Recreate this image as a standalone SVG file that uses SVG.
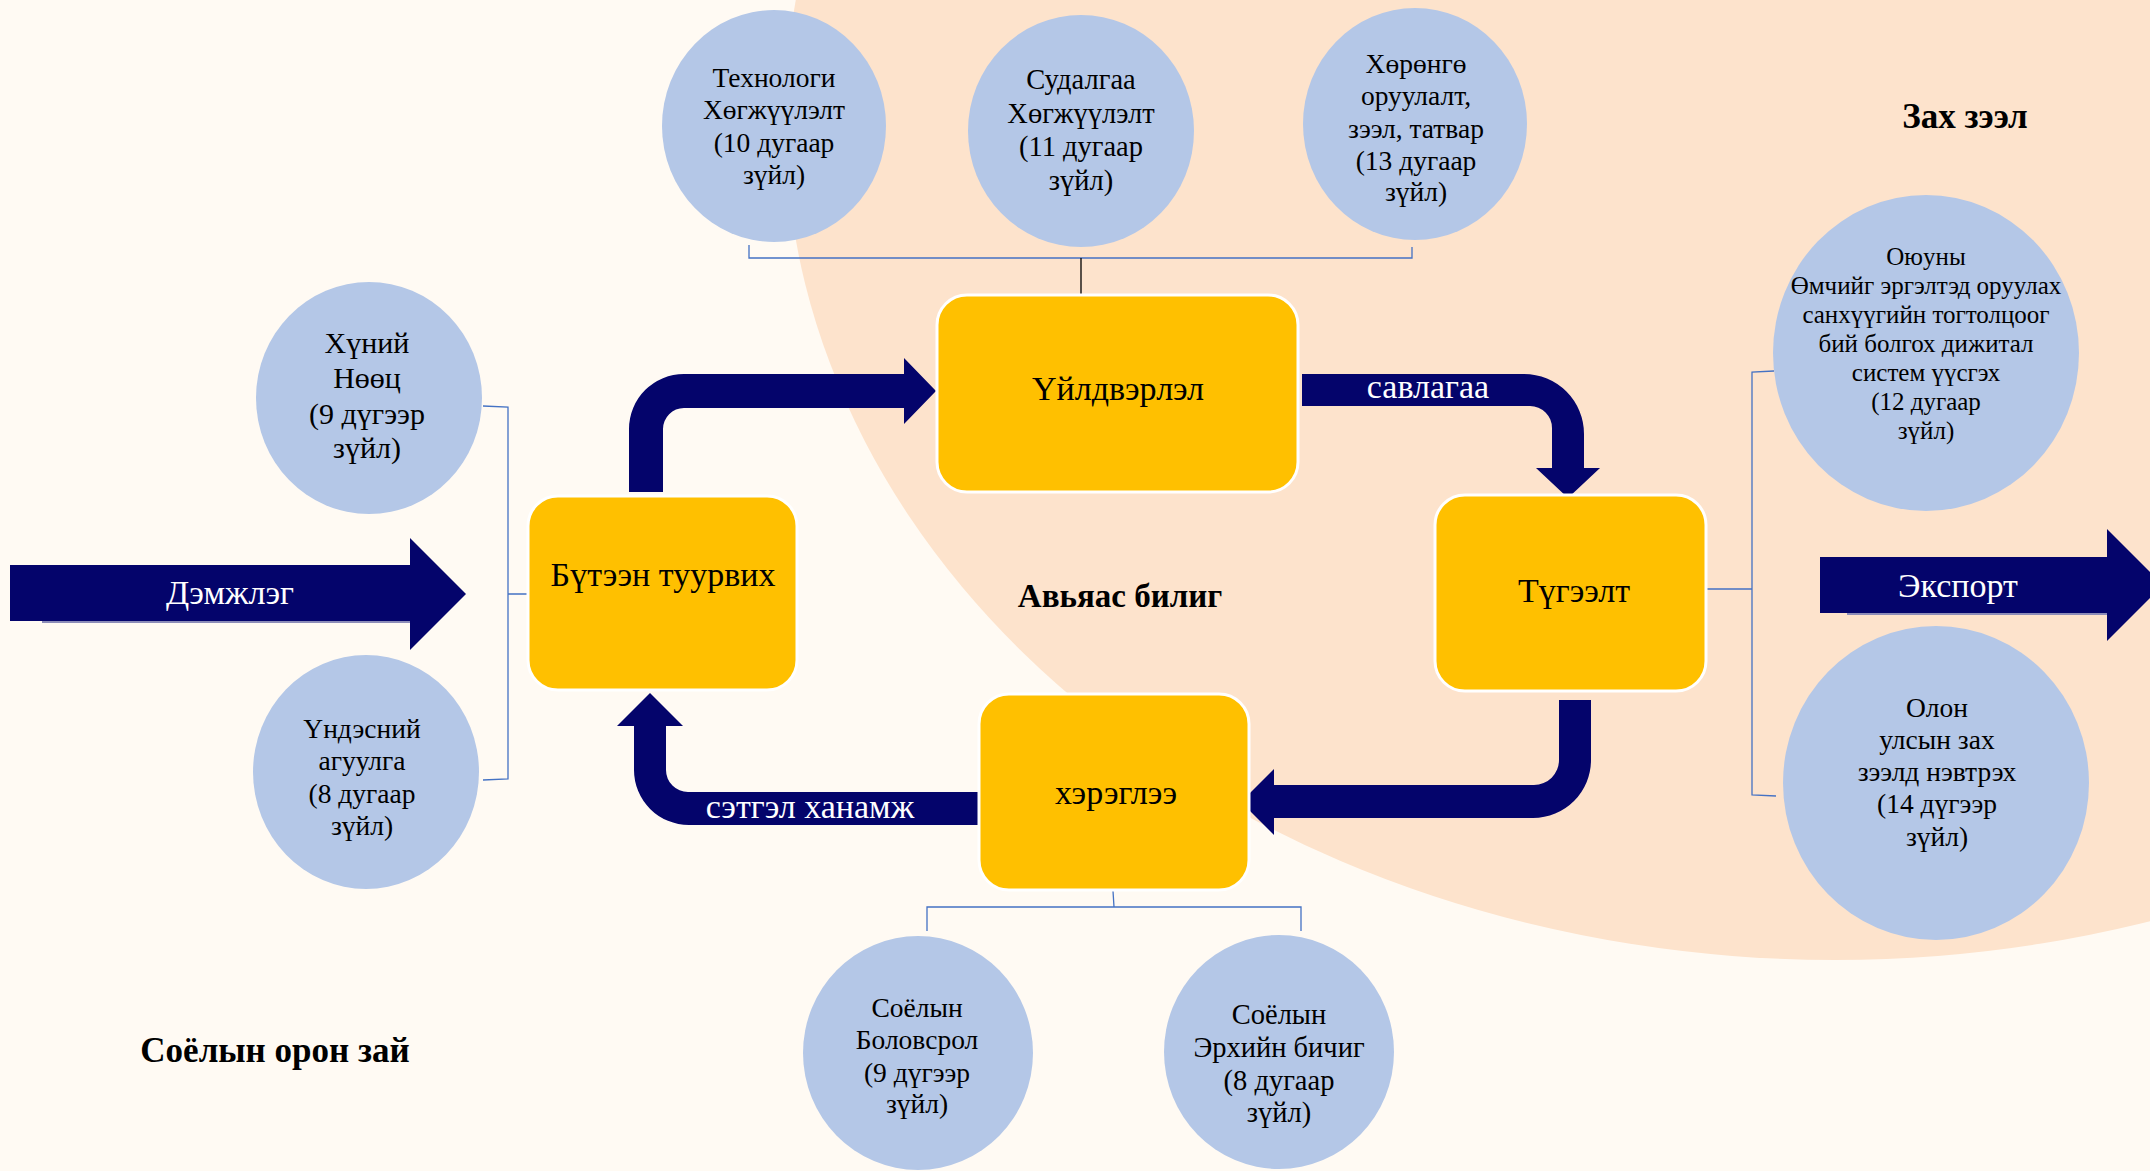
<svg xmlns="http://www.w3.org/2000/svg" width="2150" height="1171" viewBox="0 0 2150 1171">
<style>
  .circ { fill: #B4C7E7; }
  .box { fill: #FFC000; stroke: #FFFFFF; stroke-width: 3; }
  .arrow { fill: #04046B; }
  .shadow { stroke: #8C8CB8; stroke-width: 2; fill: none; }
  .t { font-family: "Liberation Serif", "DejaVu Serif", serif; fill: #000; text-anchor: middle; }
  .w { font-family: "Liberation Serif", "DejaVu Serif", serif; fill: #FFFFFF; text-anchor: middle; font-size: 34px; }
  .b { font-family: "Liberation Serif", "DejaVu Serif", serif; fill: #000; text-anchor: middle; font-weight: bold; }
  .br { fill: none; stroke: #4472C4; stroke-width: 1.3; }
</style>
<rect x="0" y="0" width="2150" height="1171" fill="#FFFAF3"/>
<ellipse cx="1835" cy="120" rx="1050" ry="840" fill="#FDE3CC"/>

<text class="b" x="1120" y="607" font-size="33">Авьяас билиг</text>
<text class="b" x="1965" y="128" font-size="35">Зах зээл</text>
<text class="b" x="275" y="1062" font-size="35">Соёлын орон зай</text>

<g id="connectors">
  <path class="br" d="M749 245 L749 258 L1412 258 L1412 247"/>
  <path d="M1081 258 L1081 300" stroke="#000" stroke-width="1.3" fill="none"/>
  <path class="br" d="M483 406 L508 407 L508 779 L483 780 M508 594 L528 594"/>
  <path class="br" d="M1774 371 L1752 372 L1752 795 L1776 796 M1706 589 L1752 589"/>
  <path class="br" d="M927 931 L927 907 L1301 907 L1301 931 M1113 891 L1114 907"/>
  <path class="arrow" d="M629 492 L629 429 A55 55 0 0 1 684 374 L904 374 L904 358 L936 391 L904 424 L904 408 L684 408 A21 21 0 0 0 663 429 L663 492 Z"/>
  <path class="arrow" d="M1302 374 L1524 374 A60 60 0 0 1 1584 434 L1584 468 L1600 468 L1568 498 L1536 468 L1552 468 L1552 428 A22 22 0 0 0 1530 406 L1302 406 Z"/>
  <path class="arrow" d="M1559 700 L1591 700 L1591 760 A58 58 0 0 1 1533 818 L1274 818 L1274 835 L1241 802 L1274 769 L1274 785 L1534 785 A25 25 0 0 0 1559 760 Z"/>
  <path class="arrow" d="M979 792 L688 792 A22 22 0 0 1 666 770 L666 726 L683 726 L650 693 L617 726 L634 726 L634 770 A55 55 0 0 0 689 825 L979 825 Z"/>
  <polygon class="arrow" points="10,565 410,565 410,538 466,594 410,650 410,621 10,621"/>
  <path class="shadow" d="M42 622 L410 622"/>
  <polygon class="arrow" points="1820,557 2107,557 2107,529 2163,585 2107,641 2107,613 1820,613"/>
  <path class="shadow" d="M1847 614 L2107 614"/>
  <text class="w" x="1428" y="398">савлагаа</text>
  <text class="w" x="810" y="818">сэтгэл ханамж</text>
  <text class="w" x="230" y="604">Дэмжлэг</text>
  <text class="w" x="1958" y="597">Экспорт</text>
</g>

<g id="node-butieen">
  <rect class="box" x="528" y="496" width="269" height="194" rx="30"/>
  <text class="t" x="663" y="586" font-size="34">Бүтээн туурвих</text>
</g>
<g id="node-uildverlel">
  <rect class="box" x="937" y="295" width="361" height="197" rx="30"/>
  <text class="t" x="1118" y="400" font-size="34">Үйлдвэрлэл</text>
</g>
<g id="node-tugeelt">
  <rect class="box" x="1435" y="495" width="271" height="196" rx="30"/>
  <text class="t" x="1574" y="602" font-size="34">Түгээлт</text>
</g>
<g id="node-hereglee">
  <rect class="box" x="979" y="694" width="270" height="196" rx="30"/>
  <text class="t" x="1116" y="804" font-size="34">хэрэглээ</text>
</g>

<g id="node-tech">
  <ellipse class="circ" cx="774" cy="126" rx="112" ry="116"/>
  <text class="t" font-size="27.5"><tspan x="774" y="87">Технологи</tspan><tspan x="774" y="119">Хөгжүүлэлт</tspan><tspan x="774" y="152">(10 дугаар</tspan><tspan x="774" y="184">зүйл)</tspan></text>
</g>
<g id="node-research">
  <ellipse class="circ" cx="1081" cy="131" rx="113" ry="116"/>
  <text class="t" font-size="28.5"><tspan x="1081" y="89">Судалгаа</tspan><tspan x="1081" y="123">Хөгжүүлэлт</tspan><tspan x="1081" y="156">(11 дугаар</tspan><tspan x="1081" y="190">зүйл)</tspan></text>
</g>
<g id="node-invest">
  <ellipse class="circ" cx="1415" cy="124" rx="112" ry="116"/>
  <text class="t" font-size="27.5"><tspan x="1416" y="73">Хөрөнгө</tspan><tspan x="1416" y="105">оруулалт,</tspan><tspan x="1416" y="138">зээл, татвар</tspan><tspan x="1416" y="170">(13 дугаар</tspan><tspan x="1416" y="201">зүйл)</tspan></text>
</g>
<g id="node-ip">
  <ellipse class="circ" cx="1926" cy="353" rx="153" ry="158"/>
  <text class="t" font-size="25"><tspan x="1926" y="265">Оюуны</tspan><tspan x="1926" y="294">Өмчийг эргэлтэд оруулах</tspan><tspan x="1926" y="323">санхүүгийн тогтолцоог</tspan><tspan x="1926" y="352">бий болгох дижитал</tspan><tspan x="1926" y="381">систем үүсгэх</tspan><tspan x="1926" y="410">(12 дугаар</tspan><tspan x="1926" y="439">зүйл)</tspan></text>
</g>
<g id="node-human">
  <ellipse class="circ" cx="369" cy="398" rx="113" ry="116"/>
  <text class="t" font-size="30"><tspan x="367" y="353">Хүний</tspan><tspan x="367" y="388">Нөөц</tspan><tspan x="367" y="424">(9 дүгээр</tspan><tspan x="367" y="458">зүйл)</tspan></text>
</g>
<g id="node-national">
  <ellipse class="circ" cx="366" cy="772" rx="113" ry="117"/>
  <text class="t" font-size="27.5"><tspan x="362" y="738">Үндэсний</tspan><tspan x="362" y="770">агуулга</tspan><tspan x="362" y="803">(8 дугаар</tspan><tspan x="362" y="835">зүйл)</tspan></text>
</g>
<g id="node-education">
  <ellipse class="circ" cx="918" cy="1053" rx="115" ry="117"/>
  <text class="t" font-size="27.5"><tspan x="917" y="1017">Соёлын</tspan><tspan x="917" y="1049">Боловсрол</tspan><tspan x="917" y="1082">(9 дүгээр</tspan><tspan x="917" y="1113">зүйл)</tspan></text>
</g>
<g id="node-rights">
  <ellipse class="circ" cx="1279" cy="1052" rx="115" ry="117"/>
  <text class="t" font-size="28.5"><tspan x="1279" y="1024">Соёлын</tspan><tspan x="1279" y="1057">Эрхийн бичиг</tspan><tspan x="1279" y="1090">(8 дугаар</tspan><tspan x="1279" y="1122">зүйл)</tspan></text>
</g>
<g id="node-intl">
  <ellipse class="circ" cx="1936" cy="783" rx="153" ry="157"/>
  <text class="t" font-size="27.5"><tspan x="1937" y="717">Олон</tspan><tspan x="1937" y="749">улсын зах</tspan><tspan x="1937" y="781">зээлд нэвтрэх</tspan><tspan x="1937" y="813">(14 дүгээр</tspan><tspan x="1937" y="846">зүйл)</tspan></text>
</g>
</svg>
